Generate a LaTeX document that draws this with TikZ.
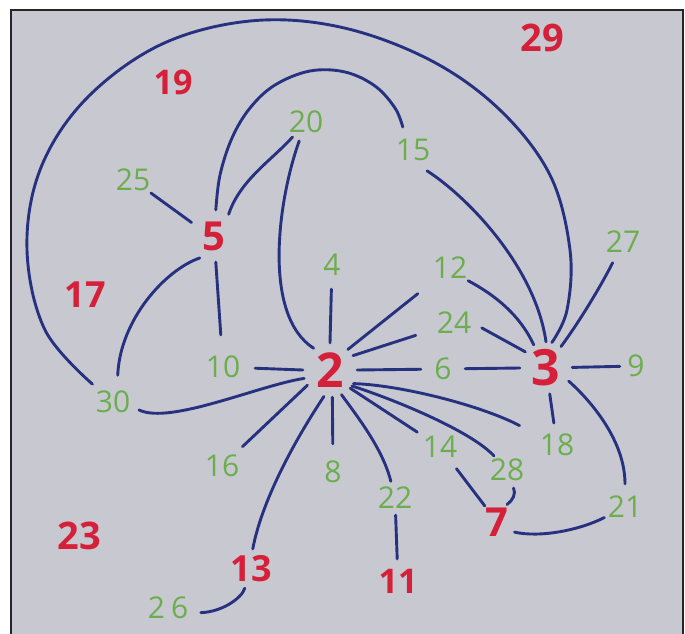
\documentclass[tikz,border=0pt]{standalone}
\usepackage{fontspec}
\setmainfont{Open Sans}
\definecolor{bg}{RGB}{199,200,208}
\definecolor{ink}{RGB}{38,50,128}
\definecolor{rd}{RGB}{214,32,58}
\definecolor{gr}{RGB}{108,174,78}
\tikzset{
  edge/.style={draw=ink, line width=2.9pt, line cap=round},
  gl/.style={circle, inner sep=-14pt, text=gr, font=\fontsize{30}{30}\selectfont},
  rl/.style={circle, inner sep=-16pt, text=rd, font=\bfseries\fontsize{#1}{#1}\selectfont},
}
\begin{document}
\begin{tikzpicture}[x=1pt,y=-1pt]
\useasboundingbox (0,0) rectangle (685,634);
\fill[white] (0,0) rectangle (685,634);
\fill[bg] (11,10) rectangle (683,634);
\draw[line width=2pt, black!85] (11,634) -- (11,10) -- (683,10) -- (683,634);

% red nodes
\node[rl=48, minimum size=54pt] (n2) at (330,370) {2};
\node[rl=50, minimum size=52pt] (n3) at (546,368) {3};
\node[rl=40, minimum size=52pt] (n5) at (214,236) {5};
\node[rl=40, minimum size=40pt] (n7) at (497,522) {7};
\node[rl=36, minimum size=40pt] (n13) at (251,569) {13};
\node[rl=34, minimum size=44pt] (n11) at (398,581) {11};
\node[rl=36] (n17) at (85,295) {17};
\node[rl=34] (n19) at (173,82) {19};
\node[rl=38] (n29) at (542,38) {29};
\node[rl=38] (n23) at (79,536) {23};

% green nodes
\node[gl, minimum size=40pt] (n20) at (306,122) {20};
\node[gl, minimum size=50pt] (n15) at (413,150) {15};
\node[gl, minimum size=44pt] (n25) at (133,180) {25};
\node[gl, minimum size=48pt] (n4) at (332,265) {4};
\node[gl, minimum size=44pt] (n12) at (450,268) {12};
\node[gl, minimum size=46pt] (n27) at (623,242) {27};
\node[gl, minimum size=56pt] (n24) at (454,323) {24};
\node[gl, minimum size=64pt] (n10) at (223,367) {10};
\node[gl, minimum size=44pt] (n6) at (443,369) {6};
\node[gl, minimum size=32pt] (n9) at (636,366) {9};
\node[gl, minimum size=54pt] (n30) at (113,402) {30};
\node[gl, minimum size=56pt] (n16) at (222,466) {16};
\node[gl, minimum size=56pt] (n8) at (333,472) {8};
\node[gl, minimum size=54pt] (n14) at (440,447) {14};
\node[gl, minimum size=44pt] (n18) at (557,445) {18};
\node[gl, minimum size=38pt] (n28) at (507,470) {28};
\node[gl, minimum size=34pt] (n22) at (395,498) {22};
\node[gl, minimum size=46pt] (n21) at (625,507) {21};
\node[gl, minimum size=66pt] (n26) at (168,608) {2\kern6pt 6};

% connectors
\draw[edge] (n25) -- (n5.149);
\draw[edge] (n5.56) .. controls (240,180) and (272,160) .. (n20);
\draw[edge] plot[smooth,tension=0.6] coordinates {(n5.86) (220,175) (232,138) (250,108) (275,85) (310,71) (345,72) (375,86) (395,108) (n15.114)};
\draw[edge] (n5) -- (n10);
\draw[edge] (n5.237) .. controls (165,270) and (120,320) .. (n30.80);
\draw[edge] (n20) .. controls (278,200) and (262,315) .. (n2.127);
\draw[edge] (n4) -- (n2.90);
\draw[edge, shorten >=19pt] (n2.49) -- (n12);
\draw[edge, shorten >=12pt] (n2.32) -- (n24);
\draw[edge] (n2.0) -- (n6);
\draw[edge] (n6) -- (n3.180);
\draw[edge] (n10) -- (n2.180);
\draw[edge] (n30.-17) .. controls (170,425) and (260,385) .. (n2.198);
\draw[edge] (n16) -- (n2.214);
\draw[edge] (n13.85) .. controls (262,500) and (295,440) .. (n2.257);
\draw[edge] (n2.-85) -- (n8);
\draw[edge] (n2.-65) .. controls (360,420) and (383,450) .. (n22);
\draw[edge] (n2.-42) -- (n14);
\draw[edge] (n2.-36) .. controls (390,398) and (470,430) .. (n28);
\draw[edge, shorten >=20pt] (n2.-30) .. controls (400,385) and (480,405) .. (n18);
\draw[edge] (n22) -- (n11);
\draw[edge] (n14) -- (n7);
\draw[edge] (n28.-70) .. controls (516,494) and (513,500) .. (n7.60);
\draw[edge] (n7.-30) .. controls (540,538) and (580,530) .. (n21);
\draw[edge] (n3.-30) .. controls (590,400) and (625,440) .. (n21);
\draw[edge] (n3) -- (n18);
\draw[edge] (n3) -- (n9);
\draw[edge] (n3.55) .. controls (582,318) and (603,282) .. (n27);
\draw[edge] (n12.-35) .. controls (495,295) and (520,315) .. (n3.118);
\draw[edge] (n24.-10) -- (n3.142);
\draw[edge] (n15.-56) .. controls (465,195) and (535,265) .. (n3.90);
\draw[edge] plot[smooth,tension=0.6] coordinates {(n30.139) (45,330) (27,250) (40,170) (85,100) (160,45) (250,21) (340,27) (430,60) (500,110) (550,175) (570,250) (567,310) (n3.77)};
\draw[edge] (n13.252) .. controls (242,598) and (222,612) .. (n26.-8);
\end{tikzpicture}
\end{document}
